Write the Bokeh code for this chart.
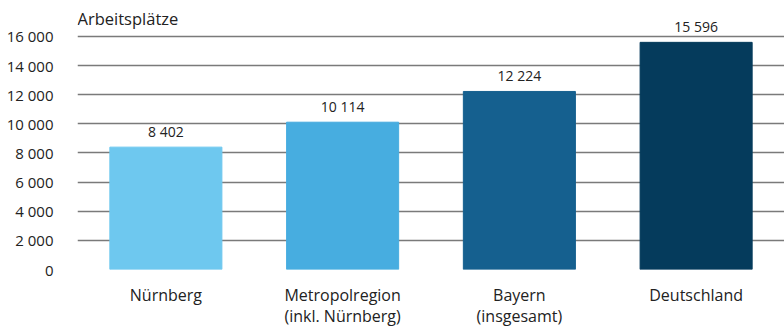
from bokeh.plotting import figure
from bokeh.models import ColumnDataSource, FactorRange, Range1d, FixedTicker, Label
from bokeh.embed import file_html
from bokeh.resources import INLINE

categories = ["Nürnberg", "Metropolregion\n(inkl. Nürnberg)", "Bayern\n(insgesamt)", "Deutschland"]
values = [8402, 10114, 12224, 15596]
colors = ["#6EC8EF", "#47ADE0", "#15608F", "#053B5C"]
y_ticks = [0, 2000, 4000, 6000, 8000, 10000, 12000, 14000, 16000]
y_title = "Arbeitsplätze"

FONT = "Open Sans"
TXT = "#222222"
SEP = " "

def fmt(v):
    return f"{v:,}".replace(",", SEP)

src = ColumnDataSource(dict(cat=categories, val=values, col=colors,
                            lab=[fmt(v) for v in values]))

p = figure(width=784, height=329, output_backend="svg", toolbar_location=None,
           x_range=FactorRange(*categories, range_padding=0),
           y_range=Range1d(0, 18470),
           min_border_left=77, min_border_right=0, min_border_top=0, min_border_bottom=60)
p.outline_line_color = None
p.background_fill_color = "white"
p.border_fill_color = "white"

p.vbar(x="cat", top="val", width=0.634, color="col", source=src)
p.text(x="cat", y="val", text="lab", source=src, text_align="center",
       text_baseline="bottom", y_offset=-6, text_font_size="14px",
       text_color=TXT, text_font={"value": FONT})

p.xgrid.grid_line_color = None
p.ygrid.ticker = FixedTicker(ticks=y_ticks)
p.ygrid.grid_line_color = "#7a7a7a"
p.ygrid.grid_line_width = 1.5

ya = p.yaxis[0]
ya.ticker = FixedTicker(ticks=y_ticks)
ya.major_label_overrides = {t: fmt(t) for t in y_ticks}
ya.axis_line_color = None
ya.major_tick_line_color = None
ya.minor_tick_line_color = None
ya.major_label_text_font = FONT
ya.major_label_text_font_size = "15px"
ya.major_label_text_color = TXT
ya.major_label_standoff = 18

xa = p.xaxis[0]
xa.axis_line_color = None
xa.major_tick_line_color = None
xa.major_label_text_font = FONT
xa.major_label_text_font_size = "16px"
xa.major_label_text_color = TXT
xa.major_label_text_line_height = 0.96
xa.major_label_standoff = 8

p.add_layout(Label(x=0, y=y_ticks[-1], x_units="screen", y_offset=18,
                   text=y_title, text_font=FONT, text_font_size="16.5px",
                   text_color=TXT, text_baseline="alphabetic"))

open("out.html", "w").write(file_html(p, INLINE))
